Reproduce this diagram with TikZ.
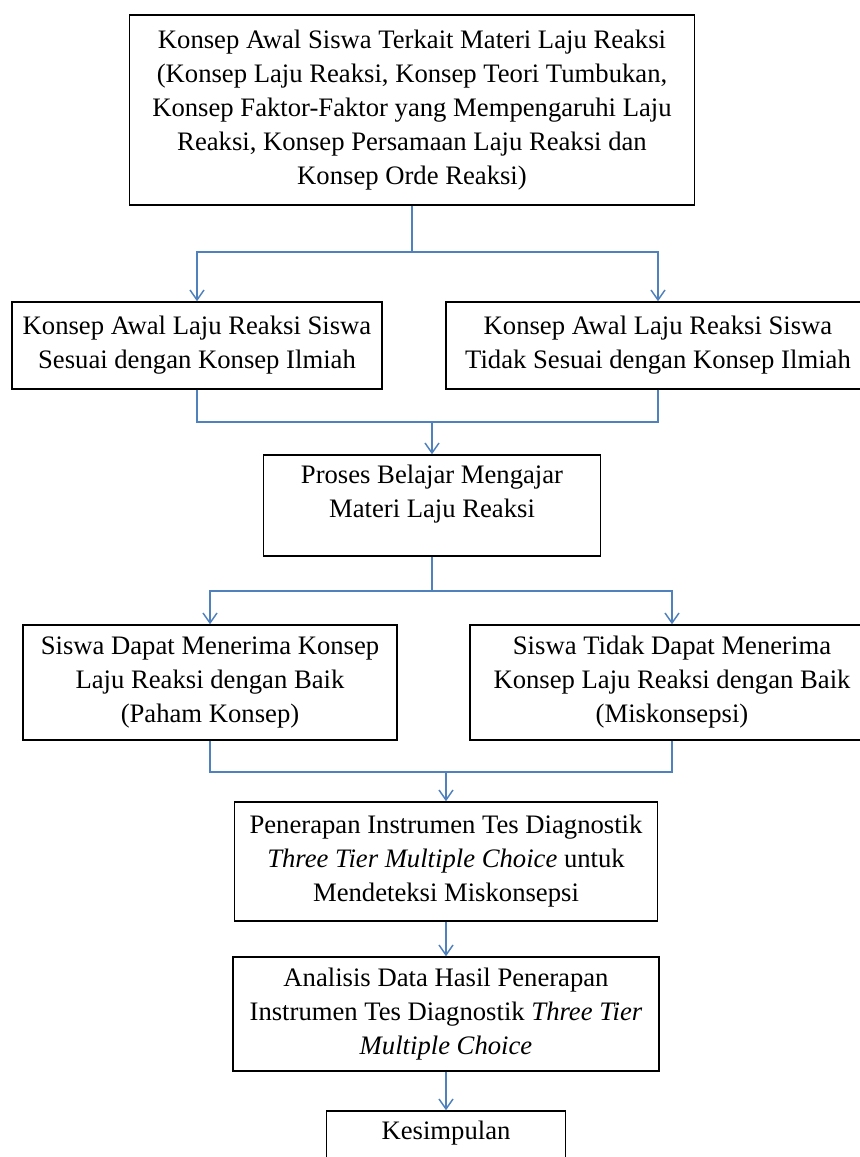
\documentclass[tikz,border=0pt]{standalone}
\usepackage{fontspec}
\setmainfont{Liberation Serif}
\usetikzlibrary{arrows.meta}
\definecolor{connblue}{RGB}{79,129,189}
\begin{document}
\begin{tikzpicture}[x=0.75pt,y=-0.75pt,
  boxnode/.style={draw=black, line width=1.1pt, inner sep=0pt, align=center,
    font=\fontsize{20}{25.5}\selectfont},
  txt/.style={inner sep=0pt, align=center, font=\fontsize{20}{25.5}\selectfont},
  conn/.style={draw=connblue, line width=1.1pt},
  arr/.style={conn, -{Straight Barb[length=7.5pt,width=10.5pt]}}]
\useasboundingbox (0,0) rectangle (860,1157);

\node[boxnode, minimum width=565*0.75pt, minimum height=190*0.75pt] (top) at (412,110)
  {Konsep Awal Siswa Terkait Materi Laju Reaksi\\(Konsep Laju Reaksi, Konsep Teori Tumbukan,\\Konsep Faktor-Faktor yang Mempengaruhi Laju\\Reaksi, Konsep Persamaan Laju Reaksi dan\\Konsep Orde Reaksi)};

\node[boxnode, minimum width=370*0.75pt, minimum height=87*0.75pt] (b2l) at (197,345.5)
  {Konsep Awal Laju Reaksi Siswa\\Sesuai dengan Konsep Ilmiah};
\node[boxnode, minimum width=424*0.75pt, minimum height=87*0.75pt] (b2r) at (658,345.5)
  {Konsep Awal Laju Reaksi Siswa\\Tidak Sesuai dengan Konsep Ilmiah};

\node[boxnode, minimum width=337*0.75pt, minimum height=101*0.75pt] (proc) at (432,505.5) {};
\node[txt] (proct) at (432,494) {Proses Belajar Mengajar\\Materi Laju Reaksi};

\node[boxnode, minimum width=374*0.75pt, minimum height=115*0.75pt] (b4l) at (210,682.5)
  {Siswa Dapat Menerima Konsep\\Laju Reaksi dengan Baik\\(Paham Konsep)};
\node[boxnode, minimum width=404*0.75pt, minimum height=115*0.75pt] (b4r) at (672,682.5)
  {Siswa Tidak Dapat Menerima\\Konsep Laju Reaksi dengan Baik\\(Miskonsepsi)};

\node[boxnode, minimum width=423*0.75pt, minimum height=119*0.75pt] (pen) at (446,861.5)
  {Penerapan Instrumen Tes Diagnostik\\\textit{Three Tier Multiple Choice} untuk\\Mendeteksi Miskonsepsi};

\node[boxnode, minimum width=426*0.75pt, minimum height=114*0.75pt] (ana) at (446,1014)
  {Analisis Data Hasil Penerapan\\Instrumen Tes Diagnostik \textit{Three Tier}\\\textit{Multiple Choice}};

\node[boxnode, minimum width=239*0.75pt, minimum height=70*0.75pt] (kes) at (446,1146) {};
\node[txt] (kest) at (446,1133) {Kesimpulan};

% connectors
\coordinate (j1) at (412,252);
\draw[conn] (top.south) -- (j1);
\draw[arr] (j1) -| (b2l.north);
\draw[arr] (j1) -| (b2r.north);

\coordinate (j2) at (432,422);
\draw[conn] (b2l.south) |- (j2);
\draw[conn] (b2r.south) |- (j2);
\draw[arr] (j2) -- (proc.north);

\coordinate (j3) at (432,591);
\draw[conn] (proc.south) -- (j3);
\draw[arr] (j3) -| (b4l.north);
\draw[arr] (j3) -| (b4r.north);

\coordinate (j4) at (446,772);
\draw[conn] (b4l.south) |- (j4);
\draw[conn] (b4r.south) |- (j4);
\draw[arr] (j4) -- (pen.north);

\draw[arr] (pen.south) -- (ana.north);
\draw[arr] (ana.south) -- (kes.north);
\end{tikzpicture}
\end{document}
